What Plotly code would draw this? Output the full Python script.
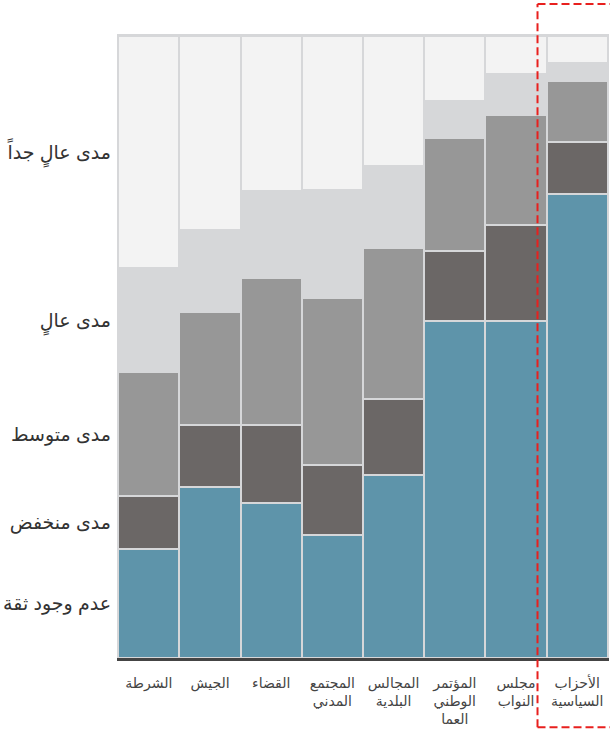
import plotly.graph_objects as go

categories = [
    "الشرطة",
    "الجيش",
    "القضاء",
    "المجتمع<br>المدني",
    "المجالس<br>البلدية",
    "المؤتمر<br>الوطني<br>العما",
    "مجلس<br>النواب",
    "الأحزاب<br>السياسية",
]

levels = ["عدم وجود ثقة", "مدى منخفض", "مدى متوسط", "مدى عالٍ", "مدى عالٍ جداً"]

no_trust = [17.5, 27.4, 24.9, 19.7, 29.4, 54.1, 54.1, 74.6]
low = [8.5, 10.0, 12.5, 11.3, 12.2, 11.3, 15.4, 8.3]
medium = [19.9, 18.2, 23.6, 26.9, 24.2, 18.1, 17.8, 9.8]
high = [16.7, 13.1, 14.1, 17.3, 13.2, 6.0, 6.5, 2.9]
very_high = [37.4, 31.3, 24.9, 24.8, 21.0, 10.5, 6.2, 4.4]

series = [no_trust, low, medium, high, very_high]
colors = ["#5e94aa", "#6b6766", "#979797", "#d6d7d9", "#f3f3f3"]
GRID = "#d6d7d9"

fig = go.Figure()
for name, vals, col in zip(levels, series, colors):
    fig.add_trace(go.Bar(
        x=categories, y=vals, name=name,
        marker=dict(color=col, line=dict(color=GRID, width=2)),
        hoverinfo="skip",
    ))

# y tick positions: middle of each segment of the first bar
tickvals = []
cum = 0
for vals in series:
    tickvals.append(cum + vals[0] / 2)
    cum += vals[0]

red = dict(color="#e8201e", width=2, dash="8px,4px")
x0, x1, y0, y1 = 0.8547, 1.01, -0.111, 1.048

fig.update_layout(
    width=610, height=736,
    barmode="stack", bargap=0,
    showlegend=False,
    paper_bgcolor="white",
    plot_bgcolor=GRID,
    margin=dict(l=117, r=1, t=34, b=78),
    font=dict(family="Liberation Sans, Arial, DejaVu Sans", color="#333"),
    xaxis=dict(
        range=[-0.52, 7.52], showgrid=False, zeroline=False,
        showline=True, linecolor="#444", linewidth=2.5,
        ticks="", tickfont=dict(size=14, color="#444"),
        ticklabelstandoff=10, fixedrange=True,
    ),
    yaxis=dict(
        range=[0, 100.25], showgrid=False, zeroline=False, showline=False,
        tickvals=tickvals, ticktext=levels, ticks="",
        tickfont=dict(size=19, color="#333"), ticklabelstandoff=5,
        fixedrange=True,
    ),
    shapes=[
        dict(type="line", xref="paper", yref="paper", x0=x0, x1=x1, y0=y1, y1=y1, line=red),
        dict(type="line", xref="paper", yref="paper", x0=x0, x1=x1, y0=y0, y1=y0, line=red),
        dict(type="path", xref="paper", yref="paper",
             path=f"M {x0},{y0} L {x0},{y1}", line=red),
    ],
)

fig.write_html(
    "out.html",
    config={"displayModeBar": False},
    post_script="document.body.style.margin='0';",
)
